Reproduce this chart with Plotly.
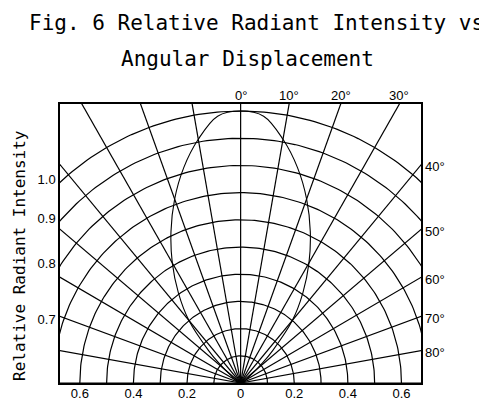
import numpy as np
import plotly.graph_objects as go

# ---- Data --------------------------------------------------------------------
# relative radiant intensity vs angle from the optical axis (degrees)
angle_deg = [-56, -52, -48, -45, -40, -35, -30, -25, -20, -15, -10, -5,
             0, 5, 10, 15, 20, 25, 30, 35, 40, 45, 48, 52, 56]
intensity = [0.0, 0.05, 0.11, 0.17, 0.30, 0.405, 0.51, 0.615, 0.72, 0.82, 0.91, 0.985,
             1.0, 0.985, 0.91, 0.82, 0.72, 0.615, 0.51, 0.405, 0.30, 0.17, 0.11, 0.05, 0.0]

# polar grid
grid_radii = [0.1, 0.2, 0.3, 0.4, 0.5, 0.6, 0.7, 0.8, 0.9, 1.0]
grid_angles = list(range(-90, 91, 10))

# axis labels
x_ticks = [-0.6, -0.4, -0.2, 0, 0.2, 0.4, 0.6]
x_tick_text = ["0.6", "0.4", "0.2", "0", "0.2", "0.4", "0.6"]
# heights where the left-hand labels sit on the original drawing
y_ticks = [0.75, 0.607, 0.441, 0.232]
y_tick_text = ["1.0", "0.9", "0.8", "0.7"]
top_angle_labels = [0, 10, 20, 30]
right_angle_labels = [40, 50, 60, 70, 80]

title_1 = "Fig. 6 Relative Radiant Intensity vs"
title_2 = "Angular Displacement"
y_title = "Relative Radiant Intensity"

X_MIN, X_MAX = -0.674, 0.673
Y_MAX = 1.026

# page body has an 8px margin (top/left), so the figure starts at (8, 8)
OFF = 8
W, H = 487 - OFF, 401 - OFF
L, T = 60 - OFF, 104 - OFF
R, B = 487 - 420.7, 401 - 383
pw, ph = W - L - R, H - T - B


def px_to_paper(px, py):
    """page pixel (from top-left of the window) -> paper coords"""
    return (px - OFF - L) / pw, (H - (py - OFF) - B) / ph


fig = go.Figure()

# concentric arcs
phi = np.radians(np.linspace(-90, 90, 181))
for r in grid_radii:
    fig.add_trace(go.Scatter(x=r * np.sin(phi), y=r * np.cos(phi), mode="lines",
                             line=dict(color="black", width=1.2), hoverinfo="skip"))

# radial lines
for a in grid_angles:
    t = np.radians(a)
    fig.add_trace(go.Scatter(x=[0, 1.6 * np.sin(t)], y=[0, 1.6 * np.cos(t)], mode="lines",
                             line=dict(color="black", width=1.2), hoverinfo="skip"))

# intensity curve
th = np.radians(angle_deg)
r_arr = np.array(intensity)
fig.add_trace(go.Scatter(x=r_arr * np.sin(th), y=r_arr * np.cos(th), mode="lines",
                         line=dict(color="black", width=1.1, shape="spline", smoothing=1.0),
                         hoverinfo="skip"))

label_font = dict(family="Liberation Sans", size=13, color="black")
ann = []
for a in top_angle_labels:
    ann.append(dict(x=Y_MAX * np.tan(np.radians(a)), y=Y_MAX, xref="x", yref="y",
                    text=f"{a}°", showarrow=False, xanchor="center", yanchor="bottom",
                    yshift=-1, font=label_font))
for a in right_angle_labels:
    ann.append(dict(x=X_MAX, y=X_MAX / np.tan(np.radians(a)), xref="x", yref="y",
                    text=f"{a}°", showarrow=False, xanchor="left", yanchor="middle",
                    xshift=2, yshift=-2, font=label_font))

# titles
tx, ty = px_to_paper(256, 23)
ann.append(dict(x=tx, y=ty, xref="paper", yref="paper", text=title_1, showarrow=False,
                xanchor="center", yanchor="middle",
                font=dict(family="DejaVu Sans Mono", size=21, color="black")))
tx, ty = px_to_paper(247, 59)
ann.append(dict(x=tx, y=ty, xref="paper", yref="paper", text=title_2, showarrow=False,
                xanchor="center", yanchor="middle",
                font=dict(family="DejaVu Sans Mono", size=21, color="black")))
tx, ty = px_to_paper(19, 255)
ann.append(dict(x=tx, y=ty, xref="paper", yref="paper", text=y_title, showarrow=False,
                textangle=-90, xanchor="center", yanchor="middle",
                font=dict(family="DejaVu Sans Mono", size=16, color="black")))

fig.update_layout(
    width=W, height=H,
    margin=dict(l=L, r=R, t=T, b=B, autoexpand=False),
    paper_bgcolor="white", plot_bgcolor="white",
    showlegend=False,
    annotations=ann,
    font=label_font,
)
fig.update_xaxes(range=[X_MIN, X_MAX], showgrid=False, zeroline=False,
                 tickvals=x_ticks, ticktext=x_tick_text, ticks="",
                 ticklabelstandoff=-2,
                 showline=True, linecolor="black", linewidth=1.5, mirror=True,
                 tickfont=label_font)
fig.update_yaxes(range=[0, Y_MAX], showgrid=False, zeroline=False,
                 tickvals=y_ticks, ticktext=y_tick_text, ticks="",
                 showline=True, linecolor="black", linewidth=1.5, mirror=True,
                 tickfont=label_font)

fig.write_html("out.html")
